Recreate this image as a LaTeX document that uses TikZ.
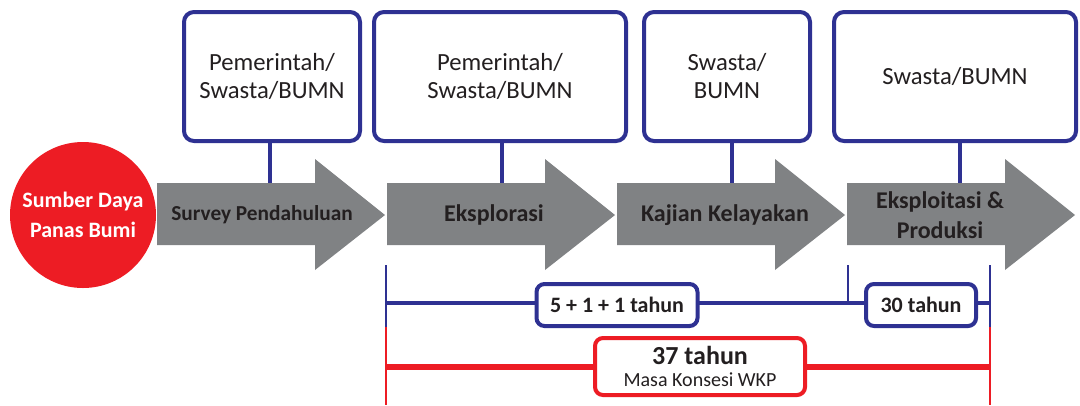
\documentclass[tikz,border=0pt]{standalone}
\usepackage{fontspec}
\setmainfont{Carlito}
\definecolor{dblue}{HTML}{2E3192}
\definecolor{cred}{HTML}{ED1C24}
\definecolor{agray}{HTML}{808284}
\definecolor{txt}{HTML}{231F20}
\begin{document}
\begin{tikzpicture}[x=0.75pt,y=-0.75pt,
  rolebox/.style={draw=dblue,line width=3pt,rounded corners=7.5pt,fill=white,inner sep=0pt,align=center,text=txt,font=\fontsize{18.5pt}{21pt}\selectfont,minimum height=0.75*129pt},
  stem/.style={dblue,line width=3pt},
  arrowbody/.style={fill=agray},
  steplabel/.style={text=txt,font=\bfseries\fontsize{18pt}{22.5pt}\selectfont,align=center,inner sep=0pt},
  durbox/.style={draw=dblue,line width=3pt,rounded corners=6pt,fill=white,inner sep=0pt,text=txt,font=\bfseries\fontsize{16.5pt}{20pt}\selectfont,minimum height=0.75*42pt},
  thinblue/.style={dblue,line width=1.5pt},
  thinred/.style={cred,line width=1.5pt}]
\useasboundingbox (0,0) rectangle (1080,405);

% arrows
\foreach \t in {385,615,845,1075}
  \fill[arrowbody] ({\t-228},183) -- ({\t-70},183) -- ({\t-70},159) -- (\t,215) -- ({\t-70},270) -- ({\t-70},245) -- ({\t-228},245) -- cycle;

% source circle
\node[circle,fill=cred,minimum size=0.75*146pt,inner sep=0pt,text=white,align=center,font=\bfseries\fontsize{16.5pt}{22.5pt}\selectfont] (src) at (83,215) {Sumber Daya\\Panas Bumi};

% step labels
\node[steplabel,font=\bfseries\fontsize{16pt}{22.5pt}\selectfont] (l1) at (262,215) {Survey Pendahuluan};
\node[steplabel] (l2) at (494,215) {Eksplorasi};
\node[steplabel] (l3) at (725,215) {Kajian Kelayakan};
\node[steplabel] (l4) at (940,215) {Eksploitasi \&\\Produksi};

% role boxes
\node[rolebox,minimum width=0.75*176pt] (b1) at (272,76.5) {Pemerintah/\\Swasta/BUMN};
\node[rolebox,minimum width=0.75*252pt] (b2) at (500,76.5) {Pemerintah/\\Swasta/BUMN};
\node[rolebox,minimum width=0.75*166pt] (b3) at (727,76.5) {Swasta/\\BUMN};
\node[rolebox,minimum width=0.75*242pt] (b4) at (955,76.5) {Swasta/BUMN};

% stems
\coordinate (s1) at (270,183);
\coordinate (s2) at (502,183);
\coordinate (s3) at (732,183);
\coordinate (s4) at (960,183);
\draw[stem] (b1.south -| s1) -- (s1);
\draw[stem] (b2.south -| s2) -- (s2);
\draw[stem] (b3.south -| s3) -- (s3);
\draw[stem] (b4.south -| s4) -- (s4);

% timeline
\coordinate (lt) at (386,265);
\coordinate (lm) at (386,327);
\coordinate (lb) at (386,405);
\coordinate (rt) at (990,265);
\coordinate (rm) at (990,327);
\coordinate (rb) at (990,405);
\coordinate (mt) at (848,265);
\coordinate (mb) at (848,303);
\coordinate (bl) at (386,303);
\coordinate (br) at (990,303);
\coordinate (rl) at (386,367);
\coordinate (rr) at (990,367);

\draw[thinblue] (lt) -- (lm);
\draw[thinblue] (rt) -- (rm);
\draw[thinred] (lm) -- (lb);
\draw[thinred] (rm) -- (rb);
\draw[thinblue] (mt) -- (mb);
\draw[dblue,line width=3pt] (bl) -- (br);
\draw[cred,line width=4.5pt] (rl) -- (rr);

\node[durbox,minimum width=0.75*161pt] (d1) at (617,305) {5 + 1 + 1 tahun};
\node[durbox,minimum width=0.75*110pt] (d2) at (921,305) {30 tahun};
\node[draw=cred,line width=3pt,rounded corners=6pt,fill=white,minimum width=0.75*210pt,minimum height=0.75*57pt,inner sep=0pt,align=center,text=txt] (d3) at (700,366.5)
  {{\bfseries\fontsize{19.5pt}{21pt}\selectfont 37 tahun}\\[5pt]{\fontsize{15pt}{16pt}\selectfont Masa Konsesi WKP}};
\end{tikzpicture}
\end{document}
